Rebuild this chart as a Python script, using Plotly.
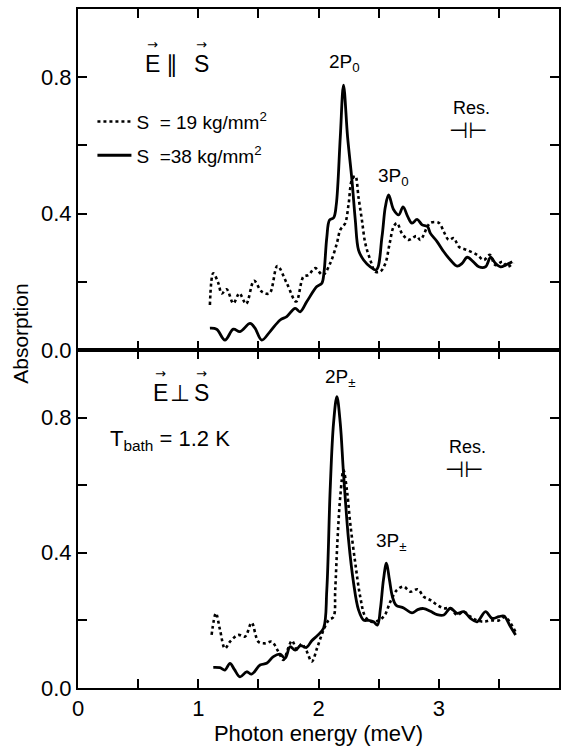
import plotly.graph_objects as go

# ---------------- data ----------------
# Upper panel: E || S
top19_x = [1.097, 1.125, 1.167, 1.195, 1.236, 1.292, 1.342, 1.398, 1.464, 1.528, 1.592, 1.658, 1.736, 1.814,
           1.875, 1.917, 1.972, 2.036, 2.097, 2.153, 2.181, 2.222, 2.25, 2.278, 2.306, 2.333, 2.361, 2.389,
           2.431, 2.472, 2.514, 2.556, 2.592, 2.625, 2.653, 2.694, 2.75, 2.814, 2.847, 2.906, 2.931, 3.0,
           3.042, 3.083, 3.125, 3.167, 3.236, 3.319, 3.375, 3.425, 3.47, 3.53, 3.57, 3.62]
top19_y = [0.132, 0.225, 0.196, 0.166, 0.178, 0.137, 0.166, 0.135, 0.203, 0.171, 0.166, 0.246, 0.196, 0.142,
           0.215, 0.220, 0.240, 0.220, 0.254, 0.313, 0.352, 0.372, 0.427, 0.499, 0.51, 0.447, 0.381, 0.313,
           0.264, 0.23, 0.23, 0.254, 0.313, 0.362, 0.372, 0.342, 0.323, 0.334, 0.323, 0.362, 0.373, 0.373,
           0.347, 0.323, 0.328, 0.303, 0.293, 0.279, 0.264, 0.279, 0.249, 0.259, 0.244, 0.256]

top38_x = [1.097, 1.153, 1.222, 1.292, 1.347, 1.431, 1.472, 1.528, 1.597, 1.681, 1.736, 1.806, 1.847, 1.903,
           1.986, 2.028, 2.045, 2.069, 2.092, 2.126, 2.148, 2.181, 2.208, 2.242, 2.278, 2.306, 2.333, 2.375,
           2.431, 2.481, 2.528, 2.556, 2.583, 2.625, 2.667, 2.703, 2.742, 2.778, 2.82, 2.862, 2.906, 2.931,
           2.986, 3.042, 3.097, 3.153, 3.194, 3.236, 3.286, 3.333, 3.389, 3.431, 3.472, 3.514, 3.556, 3.611]
top38_y = [0.064, 0.061, 0.029, 0.061, 0.054, 0.078, 0.064, 0.029, 0.054, 0.088, 0.098, 0.122, 0.112, 0.142,
           0.186, 0.196, 0.225, 0.33, 0.381, 0.388, 0.427, 0.624, 0.777, 0.624, 0.499, 0.381, 0.293, 0.264,
           0.244, 0.235, 0.332, 0.42, 0.455, 0.411, 0.396, 0.42, 0.391, 0.372, 0.383, 0.367, 0.362, 0.342,
           0.318, 0.288, 0.264, 0.246, 0.254, 0.272, 0.259, 0.244, 0.244, 0.272, 0.254, 0.244, 0.249, 0.259]

# Lower panel: E perpendicular S
bot19_x = [1.111, 1.147, 1.181, 1.222, 1.264, 1.333, 1.389, 1.444, 1.5, 1.556, 1.611, 1.667, 1.708, 1.75,
           1.78, 1.82, 1.86, 1.9, 1.944, 1.99, 2.04, 2.083, 2.125, 2.139, 2.158, 2.181, 2.208, 2.236, 2.264,
           2.306, 2.347, 2.389, 2.44, 2.5, 2.55, 2.597, 2.653, 2.708, 2.764, 2.825, 2.875, 2.931, 2.986,
           3.042, 3.097, 3.153, 3.208, 3.264, 3.319, 3.375, 3.43, 3.5, 3.55, 3.6, 3.639]
bot19_y = [0.157, 0.221, 0.172, 0.117, 0.137, 0.157, 0.152, 0.193, 0.137, 0.132, 0.137, 0.107, 0.083, 0.12,
           0.14, 0.115, 0.13, 0.11, 0.078, 0.12, 0.17, 0.2, 0.211, 0.29, 0.438, 0.566, 0.645, 0.586, 0.487,
           0.369, 0.27, 0.211, 0.196, 0.2, 0.215, 0.255, 0.29, 0.3, 0.285, 0.292, 0.27, 0.26, 0.246,
           0.236, 0.236, 0.216, 0.226, 0.211, 0.2, 0.196, 0.2, 0.2, 0.21, 0.19, 0.165]

bot38_x = [1.125, 1.18, 1.222, 1.264, 1.3, 1.347, 1.403, 1.444, 1.514, 1.569, 1.625, 1.68, 1.722, 1.764,
           1.806, 1.85, 1.9, 1.944, 1.99, 2.042, 2.069, 2.097, 2.125, 2.153, 2.181, 2.208, 2.25, 2.292,
           2.333, 2.375, 2.417, 2.458, 2.49, 2.515, 2.54, 2.565, 2.59, 2.615, 2.645, 2.708, 2.778,
           2.825, 2.875, 2.931, 2.986, 3.042, 3.097, 3.153, 3.208, 3.264, 3.319, 3.389, 3.444, 3.5, 3.542,
           3.597, 3.639]
bot38_y = [0.061, 0.06, 0.053, 0.073, 0.055, 0.033, 0.048, 0.041, 0.068, 0.073, 0.093, 0.1, 0.088, 0.122,
           0.112, 0.125, 0.12, 0.14, 0.155, 0.177, 0.29, 0.586, 0.783, 0.862, 0.783, 0.635, 0.438, 0.31,
           0.231, 0.201, 0.2, 0.196, 0.186, 0.235, 0.32, 0.369, 0.32, 0.27, 0.245, 0.237, 0.222,
           0.232, 0.235, 0.227, 0.217, 0.216, 0.236, 0.221, 0.226, 0.206, 0.196, 0.226, 0.206, 0.211, 0.213,
           0.181, 0.157]

x_ticks = [0, 0.5, 1, 1.5, 2, 2.5, 3, 3.5, 4]
x_ticktext = ["0", "", "1", "", "2", "", "3", "", "4"]
y_ticks = [0, 0.2, 0.4, 0.6, 0.8]
y_ticktext = ["0.0", "", "0.4", "", "0.8"]

label19 = "S  = 19 kg/mm<sup>2</sup>"
label38 = "S  =38 kg/mm<sup>2</sup>"

FONT = "Liberation Sans, Arial, sans-serif"
SYM = "DejaVu Sans, sans-serif"
INK = "black"

fig = go.Figure()

fig.add_trace(go.Scatter(x=top19_x, y=top19_y, xaxis="x2", yaxis="y2", mode="lines",
                         line=dict(color=INK, width=2.6, dash="dot", shape="spline", smoothing=1.0),
                         name=label19, legendgroup="a", showlegend=True))
fig.add_trace(go.Scatter(x=top38_x, y=top38_y, xaxis="x2", yaxis="y2", mode="lines",
                         line=dict(color=INK, width=2.8, shape="spline", smoothing=1.0),
                         name=label38, legendgroup="b", showlegend=True))
fig.add_trace(go.Scatter(x=bot19_x, y=bot19_y, xaxis="x", yaxis="y", mode="lines",
                         line=dict(color=INK, width=2.6, dash="dot", shape="spline", smoothing=1.0),
                         name=label19, showlegend=False))
fig.add_trace(go.Scatter(x=bot38_x, y=bot38_y, xaxis="x", yaxis="y", mode="lines",
                         line=dict(color=INK, width=2.8, shape="spline", smoothing=1.0),
                         name=label38, showlegend=False))

split = 0.4978

xcommon = dict(range=[0, 4], tickmode="array", tickvals=x_ticks, ticktext=x_ticktext,
               ticks="inside", ticklen=9, tickwidth=2, tickcolor=INK,
               showline=True, linewidth=2, linecolor=INK, mirror="ticks",
               showgrid=False, zeroline=False,
               tickfont=dict(family=FONT, size=22, color=INK))
ycommon = dict(range=[0, 1], tickmode="array", tickvals=y_ticks, ticktext=y_ticktext,
               ticks="inside", ticklen=9, tickwidth=2, tickcolor=INK,
               showline=True, linewidth=2, linecolor=INK, mirror="ticks",
               showgrid=False, zeroline=False,
               tickfont=dict(family=FONT, size=22, color=INK))

fig.update_layout(
    width=562, height=746,
    margin=dict(l=78, r=3, t=9, b=58, autoexpand=False),
    paper_bgcolor="white", plot_bgcolor="white",
    font=dict(family=FONT, color=INK),
    xaxis=dict(**xcommon, anchor="y", domain=[0, 1],
               title=dict(text="Photon energy (meV)", font=dict(family=FONT, size=22, color=INK), standoff=2)),
    xaxis2=dict(**xcommon, anchor="y2", domain=[0, 1], matches="x", showticklabels=False),
    yaxis=dict(**ycommon, anchor="x", domain=[0, split]),
    yaxis2=dict(**ycommon, anchor="x2", domain=[split, 1]),
    showlegend=True,
    legend=dict(x=0.03, y=0.862, xanchor="left", yanchor="top", bgcolor="rgba(0,0,0,0)",
                font=dict(family=FONT, size=19, color=INK), traceorder="grouped",
                tracegroupgap=6, itemwidth=34),
)

def ann(text, x, y, xref, yref, size, family=FONT, **kw):
    fig.add_annotation(text=text, x=x, y=y, xref=xref, yref=yref, showarrow=False,
                       font=dict(family=family, size=size, color=INK), **kw)

# y-axis title
ann("Absorption", -0.121, (688 - 334) / 679, "paper", "paper", 21, textangle=-90, xanchor="center")

# upper panel: E || S with vector arrows
ann("E", 0.619, 0.838, "x2", "y2", 23)
ann("\u2225", 0.78, 0.838, "x2", "y2", 23, family=SYM)
ann("S", 1.03, 0.838, "x2", "y2", 23)
ann("\u2192", 0.619, 0.896, "x2", "y2", 13, family=SYM)
ann("\u2192", 1.03, 0.896, "x2", "y2", 13, family=SYM)
ann("2P<sub>0</sub>", 2.22, 0.842, "x2", "y2", 19)
ann("3P<sub>0</sub>", 2.62, 0.507, "x2", "y2", 19)
ann("Res.", 3.27, 0.71, "x2", "y2", 18)
ann("\u22a3\u22a2", 3.24, 0.645, "x2", "y2", 22, family=SYM)

# lower panel labels
ann("E", 0.69, 0.873, "x", "y", 23)
ann("\u22a5", 0.85, 0.873, "x", "y", 23, family=SYM)
ann("S", 1.03, 0.873, "x", "y", 23)
ann("\u2192", 0.69, 0.93, "x", "y", 13, family=SYM)
ann("\u2192", 1.03, 0.93, "x", "y", 13, family=SYM)
ann("T<sub>bath</sub> = 1.2 K", 0.765, 0.734, "x", "y", 22)
ann("2P<sub>±</sub>", 2.18, 0.917, "x", "y", 19)
ann("3P<sub>±</sub>", 2.61, 0.432, "x", "y", 19)
ann("Res.", 3.24, 0.713, "x", "y", 18)
ann("\u22a3\u22a2", 3.21, 0.645, "x", "y", 22, family=SYM)

fig.write_html("out.html", config={"displayModeBar": False},
               post_script="document.body.style.margin='0';")
